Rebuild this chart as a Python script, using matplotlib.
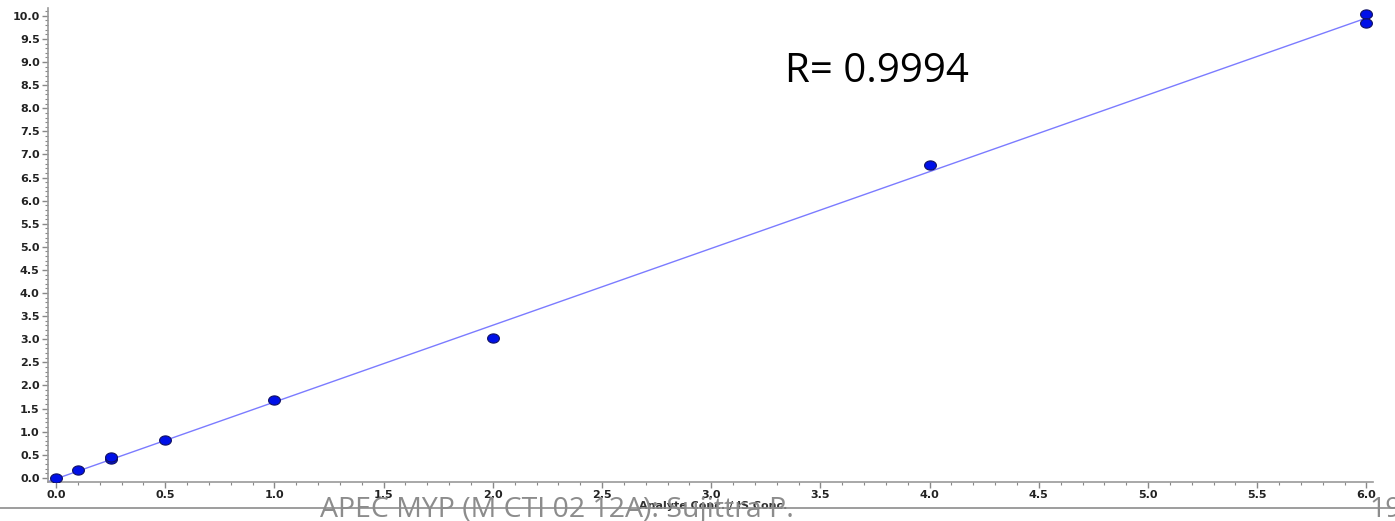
import matplotlib.pyplot as plt
import numpy as np
from matplotlib.path import Path
from matplotlib.ticker import MultipleLocator, FormatStrFormatter

# Calibration standards: analyte/IS concentration ratio vs response ratio
conc = [0.0, 0.1, 0.25, 0.25, 0.5, 1.0, 2.0, 4.0, 6.0, 6.0]
resp = [0.0, 0.17, 0.40, 0.44, 0.82, 1.68, 3.02, 6.78, 10.04, 9.85]
r_text = "R= 0.9994"
footer = "APEC MYP (M CTI 02 12A): Sujittra P."
page = "19"

fig = plt.figure(figsize=(13.95, 5.21), dpi=100)
ax = fig.add_axes([0.0344, 0.0749, 0.9498, 0.9097])

# slightly flattened dot marker
t = np.linspace(0, 2 * np.pi, 41)
dot = Path(np.column_stack([np.cos(t), 0.78 * np.sin(t)]), closed=True)

# Least-squares calibration line across the whole axis range
slope, icpt = np.polyfit(conc, resp, 1)
xl = (-0.037, 6.03)
ax.plot(xl, [slope * xl[0] + icpt, slope * xl[1] + icpt], color='#7b7bff', lw=1.0, zorder=2)
ax.plot(conc, resp, ls='none', marker=dot, ms=8.5, mfc='#0010e8', mec='#101060',
        mew=0.8, zorder=3)

ax.set_xlim(*xl)
ax.set_ylim(-0.09, 10.17)

for s in ['top', 'right']:
    ax.spines[s].set_visible(False)
for s in ['left', 'bottom']:
    ax.spines[s].set_color('#9a9a9a')
    ax.spines[s].set_linewidth(1.2)

ax.xaxis.set_major_locator(MultipleLocator(0.5))
ax.xaxis.set_minor_locator(MultipleLocator(0.1))
ax.yaxis.set_major_locator(MultipleLocator(0.5))
ax.yaxis.set_minor_locator(MultipleLocator(0.1))
ax.xaxis.set_major_formatter(FormatStrFormatter('%.1f'))
ax.yaxis.set_major_formatter(FormatStrFormatter('%.1f'))
ax.tick_params(which='major', length=4, width=1, color='#888888', labelsize=8,
               labelcolor='#222222', pad=2)
ax.tick_params(which='minor', length=2, width=0.8, color='#888888')
for lab in ax.get_xticklabels() + ax.get_yticklabels():
    lab.set_family('DejaVu Sans')
    lab.set_fontweight('bold')

ax.text(0.511, 0.019, "Analyte Conc. / IS Conc.", transform=fig.transFigure,
        ha='center', va='bottom', fontsize=8, fontweight='bold',
        family='DejaVu Sans', color='#333333')

ax.text(0.5625, 0.862, r_text, transform=fig.transFigure, ha='left', va='center',
        fontsize=29, family='Open Sans', color='black')

# Slide footer
fig.add_artist(plt.Line2D([0, 1], [0.024, 0.024], color='#8c8c8c', lw=1.2))
fig.text(0.3995, -0.005, footer, ha='center', va='bottom', fontsize=20.5,
         family='Open Sans', color='#8c8c8c')
fig.text(0.982, -0.005, page, ha='left', va='bottom', fontsize=20.5,
         family='Open Sans', color='#8c8c8c')

fig.savefig('out.png', dpi=100)
